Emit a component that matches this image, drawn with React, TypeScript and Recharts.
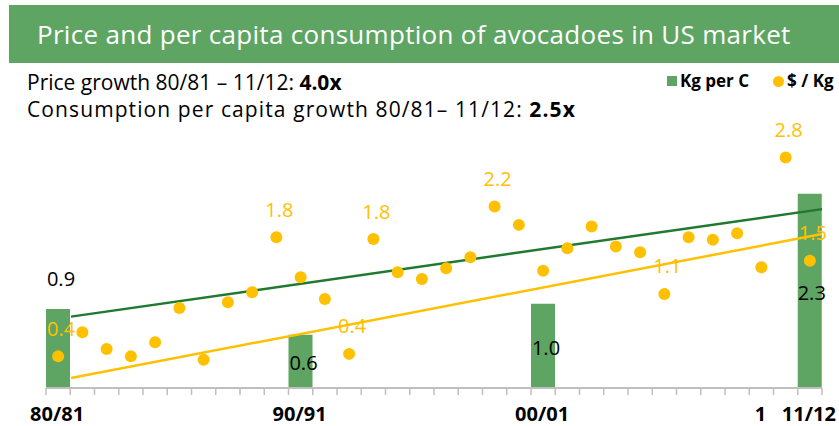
import React from 'react';
import { ComposedChart, Bar, Line, XAxis, YAxis, ReferenceLine, LabelList } from 'recharts';

const seasons = [
  '80/81', '81/82', '82/83', '83/84', '84/85', '85/86', '86/87', '87/88', '88/89', '89/90',
  '90/91', '91/92', '92/93', '93/94', '94/95', '95/96', '96/97', '97/98', '98/99', '99/00',
  '00/01', '01/02', '02/03', '03/04', '04/05', '05/06', '06/07', '07/08', '08/09', '09/10',
  '10/11', '11/12',
];

// kg per capita, only shown for four seasons
const kgPerCapita = [
  0.92, null, null, null, null, null, null, null, null, null,
  0.62, null, null, null, null, null, null, null, null, null,
  0.98, null, null, null, null, null, null, null, null, null,
  null, 2.26,
];

// $ per kg
const pricePerKg = [
  0.38, 0.67, 0.47, 0.38, 0.55, 0.96, 0.34, 1.03, 1.15, 1.81,
  1.33, 1.07, 0.41, 1.79, 1.39, 1.31, 1.44, 1.57, 2.18, 1.96,
  1.41, 1.68, 1.94, 1.70, 1.63, 1.13, 1.81, 1.78, 1.86, 1.45,
  2.77, 1.53,
];

const labelledPrices = ['80/81', '89/90', '92/93', '93/94', '98/99', '05/06', '10/11', '11/12'];

const axisLabels: Record<string, string> = {
  '80/81': '80/81',
  '90/91': '90/91',
  '00/01': '00/01',
  '09/10': '1',
  '11/12': '11/12',
};

// trend lines, x in season boundaries
const kgTrend = [{ x: 1, y: 0.83 }, { x: 31, y: 2.08 }];
const priceTrend = [{ x: 1, y: 0.12 }, { x: 31, y: 1.85 }];

const data = seasons.map((season, i) => ({
  season,
  kg: kgPerCapita[i],
  price: pricePerKg[i],
  priceLabel: labelledPrices.includes(season) ? pricePerKg[i].toFixed(1) : null,
}));

const W = 839;
const H = 426;
const PLOT_LEFT = 46;
const PLOT_RIGHT = 822;
const PLOT_TOP = 130;
const PLOT_BOTTOM = 388;
const BAND = (PLOT_RIGHT - PLOT_LEFT) / seasons.length;

const GREEN = '#5ea463';
const DARK_GREEN = '#1f7a30';
const GOLD = '#ffc000';
const AXIS_GREY = '#bfbfbf';
const FONT = '"Open Sans", "Noto Sans", sans-serif';

// hand-placed bar labels (like in the original sheet)
const barLabelShift: Record<string, { dx: number; dy: number }> = {
  '80/81': { dx: 3, dy: -30 },
  '90/91': { dx: 3, dy: 28 },
  '00/01': { dx: 3, dy: 44 },
  '11/12': { dx: 2, dy: 99 },
};

const SeasonTick = (props: any) => {
  const { x, payload, index } = props;
  const label = axisLabels[payload.value];
  const last = index === seasons.length - 1;
  return (
    <g>
      <line x1={x - BAND / 2} x2={x - BAND / 2} y1={PLOT_BOTTOM} y2={PLOT_BOTTOM + 7} stroke={AXIS_GREY} strokeWidth={1.5} />
      {last && (
        <line x1={x + BAND / 2} x2={x + BAND / 2} y1={PLOT_BOTTOM} y2={PLOT_BOTTOM + 7} stroke={AXIS_GREY} strokeWidth={1.5} />
      )}
      {label && (
        <text x={x - 1} y={421} textAnchor="middle" fontSize={20} fontWeight={700} fill="#000" fontFamily={FONT}>
          {label}
        </text>
      )}
    </g>
  );
};

const BarValueLabel = (props: any) => {
  const { x, y, width, value } = props;
  const kg = kgPerCapita[seasons.indexOf(value)];
  if (kg == null) return null;
  const shift = barLabelShift[value] || { dx: 0, dy: -12 };
  return (
    <text x={x + width / 2 + shift.dx} y={y + shift.dy} textAnchor="middle" dominantBaseline="central" fontSize={20} fill="#000" fontFamily={FONT}>
      {kg.toFixed(1)}
    </text>
  );
};

const PriceLabel = (props: any) => {
  const { x, y, value } = props;
  if (value == null) return null;
  return (
    <text x={x + 3} y={y - 28} textAnchor="middle" dominantBaseline="central" fontSize={20} fill={GOLD} fontFamily={FONT}>
      {value}
    </text>
  );
};

export default function App() {
  return (
    <div style={{ position: 'absolute', left: 0, top: 0, width: W, height: H, fontFamily: FONT, background: '#fff' }}>
      <ComposedChart
        width={W}
        height={H}
        data={data}
        barCategoryGap={0}
        margin={{ top: PLOT_TOP, right: W - PLOT_RIGHT, bottom: 0, left: PLOT_LEFT }}
        style={{ position: 'absolute', left: 0, top: 0 }}
      >
        <XAxis
          dataKey="season"
          interval={0}
          height={H - PLOT_BOTTOM}
          tickLine={false}
          axisLine={{ stroke: AXIS_GREY, strokeWidth: 2 }}
          tick={<SeasonTick />}
        />
        <XAxis xAxisId="num" type="number" domain={[0, 32]} allowDataOverflow hide />
        <YAxis yAxisId="kg" domain={[0, 3]} allowDataOverflow hide />
        <YAxis yAxisId="price" domain={[0, 3.1]} allowDataOverflow hide />
        <Bar dataKey="kg" yAxisId="kg" name="Kg per C" fill={GREEN} isAnimationActive={false}>
          <LabelList dataKey="season" content={<BarValueLabel />} />
        </Bar>
        <ReferenceLine
          xAxisId="num"
          yAxisId="kg"
          segment={kgTrend}
          stroke={DARK_GREEN}
          strokeWidth={2.5}
          ifOverflow="visible"
        />
        <ReferenceLine
          xAxisId="num"
          yAxisId="price"
          segment={priceTrend}
          stroke={GOLD}
          strokeWidth={2.5}
          ifOverflow="visible"
        />
        <Line
          dataKey="price"
          yAxisId="price"
          name="$ / Kg"
          stroke="none"
          dot={{ r: 6, fill: GOLD, stroke: 'none', strokeWidth: 0 }}
          activeDot={false}
          isAnimationActive={false}
        >
          <LabelList dataKey="priceLabel" content={<PriceLabel />} />
        </Line>
      </ComposedChart>

      {/* title banner */}
      <div
        style={{
          position: 'absolute', left: 9, top: 5, width: W - 9, height: 58, background: GREEN,
          color: '#fff', fontSize: 26, fontWeight: 500, lineHeight: '58px', paddingLeft: 28, boxSizing: 'border-box',
          whiteSpace: 'nowrap', letterSpacing: 0.3,
        }}
      >
        Price and per capita consumption of avocadoes in US market
      </div>

      {/* growth notes */}
      <div style={{ position: 'absolute', left: 27, top: 69, fontSize: 21, lineHeight: '27px', color: '#000', whiteSpace: 'nowrap' }}>
        <div>Price growth 80/81 – 11/12: <b>4.0x</b></div>
        <div style={{ letterSpacing: 1.1 }}>Consumption per capita growth 80/81– 11/12: <b>2.5x</b></div>
      </div>

      {/* legend */}
      <div style={{ position: 'absolute', left: 667, top: 72, display: 'flex', alignItems: 'center', fontSize: 17, fontWeight: 700, lineHeight: '18px', whiteSpace: 'nowrap' }}>
        <span style={{ width: 10, height: 10, background: GREEN, display: 'inline-block', marginRight: 3 }} />
        <span style={{ marginRight: 24 }}>Kg per C</span>
        <span style={{ width: 11, height: 11, borderRadius: '50%', background: GOLD, display: 'inline-block', marginRight: 3 }} />
        <span>$ / Kg</span>
      </div>
    </div>
  );
}
